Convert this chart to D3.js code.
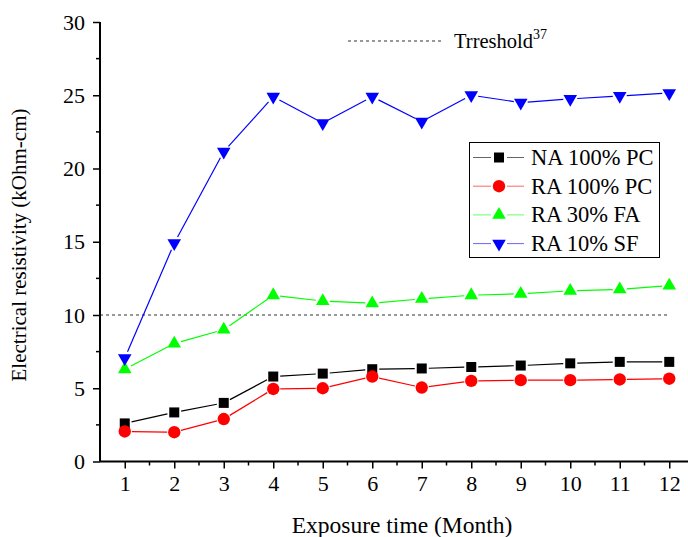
<!DOCTYPE html>
<html>
<head>
<meta charset="utf-8">
<script src="https://cdn.jsdelivr.net/npm/d3@7"></script>
<style>
  body { margin: 0; background: #fff; }
  svg { display: block; font-family: "Liberation Serif", "Times New Roman", serif; }
</style>
</head>
<body>
<div id="chart"></div>
<script>
// data
const months = [1, 2, 3, 4, 5, 6, 7, 8, 9, 10, 11, 12];
const na100pc = [2.6, 3.35, 4.0, 5.8, 6.0, 6.3, 6.35, 6.45, 6.55, 6.7, 6.8, 6.8];
const ra100pc = [2.05, 2.0, 2.9, 4.95, 5.0, 5.8, 5.05, 5.5, 5.55, 5.55, 5.6, 5.65];
const ra30fa = [6.3, 8.05, 9.0, 11.35, 10.95, 10.8, 11.1, 11.35, 11.45, 11.65, 11.75, 12.0];
const ra10sf = [7.05, 14.9, 21.15, 24.9, 23.1, 24.9, 23.2, 25.0, 24.5, 24.75, 24.95, 25.15];
const yTicks = [0, 5, 10, 15, 20, 25, 30];
const threshold = 10;
const thresholdSpan = [0.5, 12];

const series = [
  { name: 'NA 100% PC', values: na100pc, color: '#000000', symbol: d3.symbolSquare, size: 100, rot: 0 },
  { name: 'RA 100% PC', values: ra100pc, color: '#ff0000', symbol: d3.symbolCircle, size: 120, rot: 0 },
  { name: 'RA 30% FA', values: ra30fa, color: '#00ff00', symbol: d3.symbolTriangle, size: 80, rot: 0 },
  { name: 'RA 10% SF', values: ra10sf, color: '#0000ff', symbol: d3.symbolTriangle, size: 80, rot: 180 }
];

const width = 688, height = 537;
const plotLeft = 100, plotTop = 22, plotBottom = 461.5;

const svg = d3.select('#chart').append('svg')
  .attr('width', width)
  .attr('height', height);

const x = d3.scaleLinear().domain([0.5, 12.5]).range([plotLeft, plotLeft + 12 * 49.5]);
const y = d3.scaleLinear().domain([0, 30]).range([plotBottom, plotTop]);

// threshold line
svg.append('line')
  .attr('x1', x(thresholdSpan[0]))
  .attr('x2', x(thresholdSpan[1]))
  .attr('y1', y(threshold))
  .attr('y2', y(threshold))
  .attr('stroke', '#333')
  .attr('stroke-width', 1)
  .attr('stroke-dasharray', '3,3');

// axes
const xAxis = svg.append('g')
  .attr('transform', `translate(0,${plotBottom})`)
  .call(d3.axisBottom(x).tickValues(months).tickFormat(d3.format('d')).tickSize(7).tickPadding(7));
xAxis.selectAll('line.minor')
  .data(d3.range(1.5, 12.5, 1))
  .enter()
  .append('line')
  .attr('class', 'minor')
  .attr('x1', (d) => x(d))
  .attr('x2', (d) => x(d))
  .attr('y1', 0)
  .attr('y2', 4)
  .attr('stroke', '#000')
  .attr('stroke-width', 1.5);

const yAxis = svg.append('g')
  .attr('transform', `translate(${plotLeft},0)`)
  .call(d3.axisLeft(y).tickValues(yTicks).tickSize(7).tickPadding(8));
yAxis.selectAll('line.minor')
  .data(d3.range(2.5, 30, 5))
  .enter()
  .append('line')
  .attr('class', 'minor')
  .attr('x1', 0)
  .attr('x2', -4)
  .attr('y1', (d) => y(d))
  .attr('y2', (d) => y(d))
  .attr('stroke', '#000')
  .attr('stroke-width', 1.5);

[xAxis, yAxis].forEach((g) => {
  g.select('.domain').attr('stroke-width', 2);
  g.selectAll('.tick line').attr('stroke-width', 1.5);
  g.selectAll('.tick text')
    .attr('font-size', 22)
    .attr('font-family', '"Liberation Serif", serif')
    .attr('fill', '#000');
});
xAxis.select('.domain').attr('d', `M${plotLeft},0H${width}`);
yAxis.select('.domain').attr('d', `M0,${plotBottom}V${plotTop}`);

// axis titles
svg.append('text')
  .attr('x', 402)
  .attr('y', 533)
  .attr('text-anchor', 'middle')
  .attr('font-size', 23.5)
  .text('Exposure time (Month)');

svg.append('text')
  .attr('transform', 'translate(26,245) rotate(-90)')
  .attr('text-anchor', 'middle')
  .attr('font-size', 21)
  .text('Electrical resistivity (kOhm-cm)');

// series: line segments with a small gap around markers
const gap = 7;
series.forEach((s) => {
  const pts = months.map((m, i) => [x(m), y(s.values[i])]);
  const g = svg.append('g');
  for (let i = 0; i < pts.length - 1; i++) {
    const [x0, y0] = pts[i];
    const [x1, y1] = pts[i + 1];
    const len = Math.hypot(x1 - x0, y1 - y0);
    if (len <= gap * 2) continue;
    const ux = (x1 - x0) / len, uy = (y1 - y0) / len;
    g.append('line')
      .attr('x1', x0 + ux * gap)
      .attr('y1', y0 + uy * gap)
      .attr('x2', x1 - ux * gap)
      .attr('y2', y1 - uy * gap)
      .attr('stroke', s.color)
      .attr('stroke-width', 1.2);
  }
  g.selectAll('path.marker')
    .data(pts)
    .enter()
    .append('path')
    .attr('class', 'marker')
    .attr('d', d3.symbol().type(s.symbol).size(s.size))
    .attr('transform', (d) => `translate(${d[0]},${d[1]}) rotate(${s.rot})`)
    .attr('fill', s.color);
});

// threshold legend
svg.append('line')
  .attr('x1', 348)
  .attr('x2', 444)
  .attr('y1', 41)
  .attr('y2', 41)
  .attr('stroke', '#333')
  .attr('stroke-width', 1)
  .attr('stroke-dasharray', '3,3');
const thr = svg.append('text')
  .attr('x', 454)
  .attr('y', 48)
  .attr('font-size', 20.5);
thr.append('tspan').text('Trreshold');
thr.append('tspan').attr('font-size', 14).attr('dy', -9).text('37');

// legend
const legend = svg.append('g');
legend.append('rect')
  .attr('x', 469.5)
  .attr('y', 142.5)
  .attr('width', 190)
  .attr('height', 115)
  .attr('fill', '#fff')
  .attr('stroke', '#000')
  .attr('stroke-width', 1);
series.forEach((s, i) => {
  const ly = 157.5 + i * 28.7;
  legend.append('line')
    .attr('x1', 473).attr('x2', 491)
    .attr('y1', ly).attr('y2', ly)
    .attr('stroke', s.color).attr('stroke-width', 1).attr('opacity', 0.6);
  legend.append('line')
    .attr('x1', 507).attr('x2', 524)
    .attr('y1', ly).attr('y2', ly)
    .attr('stroke', s.color).attr('stroke-width', 1).attr('opacity', 0.6);
  legend.append('path')
    .attr('d', d3.symbol().type(s.symbol).size(s.size))
    .attr('transform', `translate(499,${ly}) rotate(${s.rot})`)
    .attr('fill', s.color);
  legend.append('text')
    .attr('x', 531)
    .attr('y', ly + 7.5)
    .attr('font-size', 22.5)
    .text(s.name);
});
</script>
</body>
</html>
